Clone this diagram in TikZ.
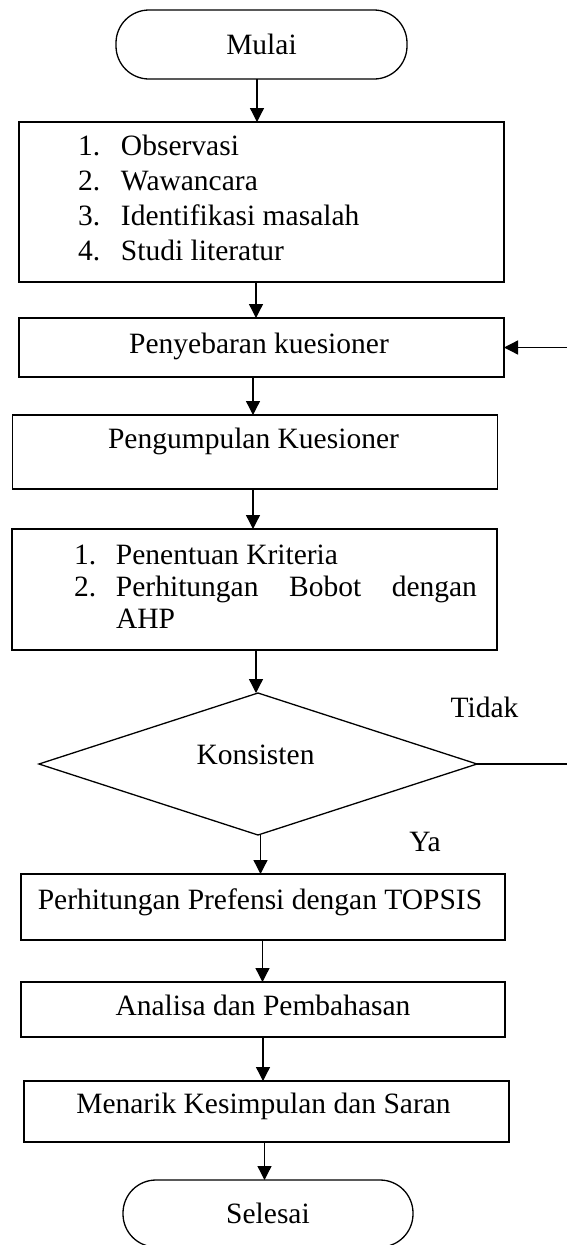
\documentclass[tikz,border=0pt]{standalone}
\usepackage{fontspec}
\setmainfont{Liberation Serif}
\usetikzlibrary{shapes.geometric,arrows.meta}
\begin{document}
\begin{tikzpicture}[x=1pt,y=-1pt,
  every node/.style={font=\fontsize{29.5}{35}\selectfont, inner sep=0pt, outer sep=0pt},
  boxnode/.style={draw, line width=1.3pt, rectangle},
  term/.style={draw, line width=1.3pt, rectangle, rounded corners=33pt},
  decision/.style={draw, line width=1.3pt, diamond},
  txt/.style={anchor=base},
  arr/.style={-{Triangle[width=14pt,length=14pt]}, line width=1.3pt},
  line/.style={line width=1.3pt}
  ]
\useasboundingbox (0,0) rectangle (566,1245);

% terminals
\node[term, minimum width=291pt, minimum height=69pt] (mulai) at (261.5,44.5) {Mulai};
\node[term, minimum width=290pt, minimum height=67pt] (selesai) at (268,1213.5) {Selesai};

% boxes
\node[boxnode, minimum width=485pt, minimum height=160pt] (box1) at (261.5,202) {};
\node[boxnode, minimum width=485pt, minimum height=59pt] (box2) at (261.5,347.5) {};
\node[boxnode, minimum width=485pt, minimum height=74pt] (box3) at (255,452) {};
\node[boxnode, minimum width=485pt, minimum height=121pt] (box4) at (254.5,589.5) {};
\node[decision, minimum width=438pt, minimum height=142pt] (dia) at (258,764) {};
\node[boxnode, minimum width=484pt, minimum height=66pt] (box5) at (263,907) {};
\node[boxnode, minimum width=484pt, minimum height=55pt] (box6) at (263,1009.5) {};
\node[boxnode, minimum width=485pt, minimum height=61pt] (box7) at (266.5,1111.5) {};

% texts
\node[anchor=base west] (list1) at (78,155)
  {\begin{tabular}[t]{@{}p{43pt}@{}l@{}}1.&Observasi\\2.&Wawancara\\3.&Identifikasi masalah\\4.&Studi literatur\end{tabular}};
\node[txt] (t2) at (259,353) {Penyebaran kuesioner};
\node[txt] (t3) at (253.5,448) {Pengumpulan Kuesioner};
\node[anchor=base west, font=\fontsize{29.5}{32}\selectfont] (list4) at (74,564)
  {\begin{tabular}[t]{@{}p{42pt}@{}l@{}}1.&Penentuan Kriteria\\2.&\makebox[361pt][s]{Perhitungan Bobot dengan}\\&AHP\end{tabular}};
\node[txt] (tk) at (255.5,764) {Konsisten};
\node[txt] (tidak) at (484.5,717) {Tidak};
\node[txt] (ya) at (425,851) {Ya};
\node[txt] (t5) at (260,909) {Perhitungan Prefensi dengan TOPSIS};
\node[txt] (t6) at (263,1015) {Analisa dan Pembahasan};
\node[txt] (t7) at (263.5,1113) {Menarik Kesimpulan dan Saran};

% connectors
\draw[arr] ([xshift=-4.5pt]mulai.south) -- ([xshift=-4.5pt]box1.north);
\draw[arr] ([xshift=-5.5pt]box1.south) -- ([xshift=-5.5pt]box2.north);
\draw[arr] ([xshift=-8.5pt]box2.south) -- ([xshift=-2pt]box3.north);
\draw[arr] ([xshift=-2pt]box3.south) -- ([xshift=-1.5pt]box4.north);
\draw[arr] ([xshift=1.5pt]box4.south) -- ([xshift=-2pt]dia.north);
\draw[arr] ([xshift=2.5pt]dia.south) -- ([xshift=-2.5pt]box5.north);
\draw[arr] ([xshift=-0.5pt]box5.south) -- ([xshift=-0.5pt]box6.north);
\draw[arr] (box6.south) -- ([xshift=-3.5pt]box7.north);
\draw[arr] ([xshift=-2pt]box7.south) -- ([xshift=-3.5pt]selesai.north);

% feedback loop (vertical part lies beyond the right edge)
\coordinate (fbR) at (580,764);
\draw[arr] (dia.east) -- (fbR) |- (box2.east);
\end{tikzpicture}
\end{document}
